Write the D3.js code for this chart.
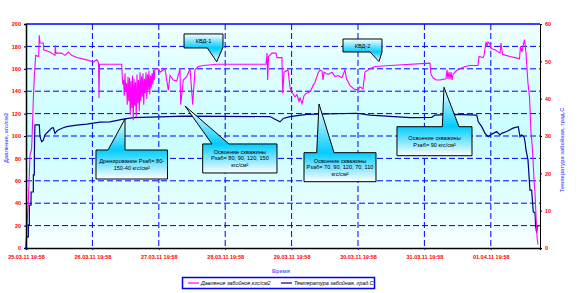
<!DOCTYPE html>
<html>
<head>
<meta charset="utf-8">
<script src="https://cdn.jsdelivr.net/npm/d3@7"></script>
<style>
  body { margin: 0; background: #ffffff; }
  svg { display: block; font-family: "Liberation Sans", Arial, sans-serif; }
</style>
</head>
<body>
<div id="chart"></div>
<script>

  // ---------------------------//
  //            DATA            //
  // ---------------------------//

  // time in days from 25.03.11 19:58
  var dayLabels = ["25.03.11 19:58", "26.03.11 19:58", "27.03.11 19:58", "28.03.11 19:58",
                   "29.03.11 19:58", "30.03.11 19:58", "31.03.11 19:58", "01.04.11 19:58"];
  var dayTicks = [0, 1, 2, 3, 4, 5, 6, 7];
  var pressureTicks = [0, 20, 40, 60, 80, 100, 120, 140, 160, 180, 200];
  var tempTicks = [0, 10, 20, 30, 40, 50, 60];

  // [day, кгс/см2]
  var pressure = [
    [0.000,0],[0.015,20],[0.030,36],[0.045,58],[0.060,83],[0.083,88],[0.090,96],[0.110,132],
    [0.125,153],[0.146,172],[0.191,171],[0.200,190],[0.211,183],[0.261,183],[0.267,177],
    [0.361,175],[0.437,172],[0.441,181],[0.449,174],[0.538,174],[0.587,172],[0.637,175],
    [0.688,172],[0.764,170],[0.914,168],[1.014,166],[1.065,168],[1.092,166],[1.099,134],
    [1.107,164],[1.441,164],
    [1.446,158],[1.457,146],[1.468,150],[1.480,136],[1.491,156],[1.502,140],[1.514,147],
    [1.525,128],[1.536,153],[1.547,131],[1.559,152],[1.570,119],[1.581,149],[1.593,125],
    [1.604,154],[1.615,114],[1.627,151],[1.638,127],[1.649,148],[1.660,117],[1.672,155],
    [1.683,129],[1.694,150],[1.706,122],[1.717,157],[1.728,131],[1.740,153],[1.751,135],
    [1.762,156],[1.773,128],[1.785,151],[1.796,138],[1.807,157],[1.819,133],[1.830,155],
    [1.841,141],[1.852,158],[1.864,137],[1.875,154],[1.886,143],[1.898,156],[1.909,146],
    [1.920,159],[1.931,150],[1.943,160],
    [1.992,160],[2.018,157],[2.093,160],[2.143,141],[2.169,154],[2.218,150],[2.270,149],
    [2.319,160],[2.330,128],[2.369,150],[2.420,153],[2.470,160],[2.511,128],[2.545,159],
    [2.595,162],[2.670,163],[2.872,164],[3.614,164],[3.630,174],[3.640,150],[3.652,171],
    [3.705,174],[3.765,174],[3.780,170],[3.855,170],[3.866,138],[3.886,157],[3.946,159],
    [3.976,143],[4.006,139],[4.051,135],[4.081,137],[4.111,131],[4.127,134],[4.157,129],
    [4.187,136],[4.217,138],[4.262,139],[4.292,141],[4.322,145],[4.352,148],[4.398,156],
    [4.428,159],[4.458,158],[4.473,150],[4.488,157],[4.548,155],[4.608,157],[4.654,153],
    [4.699,154],[4.759,152],[4.804,159],[4.827,151],[4.880,145],[4.940,142],[5.000,141],
    [5.030,144],[5.075,142],[5.105,157],[5.181,160],[5.256,162],[5.482,163],[6.084,165],
    [6.099,155],[6.130,152],[6.175,150],[6.235,150],[6.325,151],[6.340,159],[6.355,151],
    [6.370,157],[6.386,151],[6.401,157],[6.416,150],[6.431,155],[6.476,158],[6.536,160],
    [6.611,162],[6.687,163],[6.807,163],[6.822,171],[6.883,170],[6.898,172],[6.928,184],
    [6.943,180],[6.958,184],[6.988,182],[7.003,178],[7.063,177],[7.139,174],[7.154,183],
    [7.176,173],[7.229,172],[7.289,171],[7.364,170],[7.432,169],[7.447,180],[7.470,175],
    [7.485,180],[7.508,186],[7.530,174],[7.560,147],[7.583,135],[7.605,103],[7.620,94],
    [7.636,79],[7.651,61],[7.666,49],[7.681,28],[7.696,10],[7.711,3]
  ];

  // [day, град.С]
  var temperature = [
    [0.000,0],[0.009,3.0],[0.035,3.0],[0.036,6.2],[0.050,6.2],[0.051,11.5],[0.075,11.5],
    [0.077,15.0],[0.110,15.0],[0.111,19.6],[0.125,19.6],[0.127,26.3],[0.130,30.3],[0.136,33.0],
    [0.200,33.0],[0.211,29.8],[0.236,28.5],[0.261,28.9],[0.286,30.3],[0.336,31.2],[0.387,32.1],
    [0.411,32.2],[0.437,30.7],[0.462,31.3],[0.486,31.6],[0.562,32.2],[0.613,32.5],[0.688,32.7],
    [0.764,32.9],[0.914,33.2],[1.114,33.7],[1.265,33.8],[1.465,34.5],[1.616,34.9],[2.395,35.3],
    [3.675,35.2],[3.750,34.5],[3.825,33.8],[3.875,34.7],[3.976,35.2],[4.227,35.8],[4.980,36.1],
    [5.181,35.6],[5.783,34.9],[6.110,35.0],[6.160,35.6],[6.461,35.8],[6.788,35.6],[6.812,33.8],
    [6.863,32.5],[6.913,30.7],[6.962,29.8],[7.014,30.5],[7.089,31.2],[7.139,30.3],[7.164,30.7],
    [7.239,31.2],[7.334,32.1],[7.414,32.5],[7.440,29.8],[7.465,30.3],[7.500,29.8],[7.515,28.5],
    [7.530,26.3],[7.560,23.6],[7.590,15.5],[7.615,15.5],[7.640,9.7],[7.666,9.4],[7.676,5.7],
    [7.691,4.1],[7.700,5.9],[7.730,5.9]
  ];

  // callouts placed in chart units (days, кгс/см2)
  var callouts = [
    { lines: ["Дренирование Рзаб= 80-", "150-40 кгс/см²"],
      box: [1.054, 2.131, 87.5, 61.6], tip: [1.491, 115.2], base: [1.235, 1.491] },
    { lines: ["Освоение скважины", "Рзаб= 80, 90, 120, 150", "кгс/см²"],
      box: [2.661, 3.780, 92.9, 67.0], tip: [2.395, 126.8], base: [2.801, 3.057] },
    { lines: ["Освоение скважины", "Рзаб= 70, 90, 120, 70, 110", "кгс/см²"],
      box: [4.187, 5.271, 85.1, 59.2], tip: [4.413, 128.6], base: [4.378, 4.639] },
    { lines: ["Освоение скважины", "Рзаб= 90 кгс/см²"],
      box: [5.587, 6.717, 108.3, 82.4], tip: [6.295, 143.5], base: [6.270, 6.521] },
    { lines: ["КВД-1"],
      box: [2.380, 2.967, 191.1, 178.6], tip: [2.872, 166.3], base: [2.731, 2.962] },
    { lines: ["КВД-2"],
      box: [4.774, 5.361, 186.6, 175.0], tip: [5.316, 166.5], base: [5.181, 5.361] }
  ];

  // ---------------------------//
  //         DIMENSIONS         //
  // ---------------------------//

  var width = 587;
  var height = 293;
  var margin = { top: 24, right: 47, bottom: 45, left: 26 };
  var plotRight = width - margin.right;
  var plotBottom = height - margin.bottom;

  var svg = d3.select("#chart")
    .append("svg")
    .attr("width", width)
    .attr("height", height);

  var defs = svg.append("defs");
  var bg = defs.append("linearGradient")
    .attr("id", "plotBg")
    .attr("x1", 0).attr("y1", 0).attr("x2", 0).attr("y2", 1);
  bg.append("stop").attr("offset", "0%").attr("stop-color", "#f0ffff");
  bg.append("stop").attr("offset", "50%").attr("stop-color", "#c8feff");
  bg.append("stop").attr("offset", "100%").attr("stop-color", "#f8ffff");

  // ---------------------------//
  //       AXIS  AND SCALE      //
  // ---------------------------//

  var x = d3.scaleLinear().domain([0, 7.741]).range([margin.left, plotRight]);
  var yP = d3.scaleLinear().domain([0, 200]).range([plotBottom, margin.top]);
  var yT = d3.scaleLinear().domain([0, 60]).range([plotBottom, margin.top]);

  svg.append("rect")
    .attr("x", margin.left)
    .attr("y", margin.top)
    .attr("width", plotRight - margin.left)
    .attr("height", plotBottom - margin.top)
    .attr("fill", "url(#plotBg)");

  // grid
  svg.append("g")
    .selectAll("line")
    .data(pressureTicks.slice(1, -1))
    .enter().append("line")
    .attr("x1", margin.left).attr("x2", plotRight)
    .attr("y1", d => yP(d)).attr("y2", d => yP(d))
    .attr("stroke", "#0000ff").attr("stroke-width", 1)
    .attr("stroke-dasharray", "6,3");

  svg.append("g")
    .selectAll("line")
    .data(dayTicks.slice(1))
    .enter().append("line")
    .attr("x1", d => x(d)).attr("x2", d => x(d))
    .attr("y1", margin.top).attr("y2", plotBottom)
    .attr("stroke", "#0000ff").attr("stroke-width", 1)
    .attr("stroke-dasharray", "6,3");

  // top border
  svg.append("line")
    .attr("x1", margin.left).attr("x2", plotRight)
    .attr("y1", margin.top).attr("y2", margin.top)
    .attr("stroke", "#0000ff").attr("stroke-width", 1.5);

  // ---------------------------//
  //            LINES           //
  // ---------------------------//

  var pLine = d3.line().x(d => x(d[0])).y(d => yP(d[1]));
  var tLine = d3.line().x(d => x(d[0])).y(d => yT(d[1]));

  svg.append("path")
    .datum(temperature)
    .attr("fill", "none")
    .attr("stroke", "#000080")
    .attr("stroke-width", 1.2)
    .attr("d", tLine);

  svg.append("path")
    .datum(pressure)
    .attr("fill", "none")
    .attr("stroke", "#ff00ff")
    .attr("stroke-width", 1.1)
    .attr("d", pLine);

  // axes
  var leftAxis = svg.append("g")
    .attr("transform", "translate(" + margin.left + ",0)")
    .call(d3.axisLeft(yP).tickValues(pressureTicks).tickSize(2).tickPadding(3));

  var rightAxis = svg.append("g")
    .attr("transform", "translate(" + plotRight + ",0)")
    .call(d3.axisRight(yT).tickValues(tempTicks).tickSize(2).tickPadding(3));

  var bottomAxis = svg.append("g")
    .attr("transform", "translate(0," + plotBottom + ")")
    .call(d3.axisBottom(x).tickValues(dayTicks).tickSize(2).tickPadding(5)
      .tickFormat((d, i) => dayLabels[i]));

  [leftAxis, rightAxis, bottomAxis].forEach(function(g) {
    g.select(".domain").attr("stroke", "#000").attr("stroke-width", 1.5);
    g.selectAll(".tick line").attr("stroke", "#000");
    g.selectAll("text")
      .attr("fill", "#ff0000")
      .style("font-size", "5.5px")
      .style("font-weight", "bold")
      .style("font-family", "'Liberation Sans', Arial, sans-serif");
  });
  rightAxis.select(".domain").attr("stroke-width", 1);
  bottomAxis.selectAll(".tick line").attr("stroke", "#0000ff");

  // ---------------------------//
  //          CALLOUTS          //
  // ---------------------------//

  callouts.forEach(function(c, i) {
    var x0 = x(c.box[0]), x1 = x(c.box[1]);
    var y0 = yP(c.box[2]), y1 = yP(c.box[3]);
    var tx = x(c.tip[0]), ty = yP(c.tip[1]);
    var b0 = x(c.base[0]), b1 = x(c.base[1]);
    var path = d3.path();
    var fromTop = ty < y0;
    if (fromTop) {
      path.moveTo(x0, y0); path.lineTo(b0, y0); path.lineTo(tx, ty); path.lineTo(b1, y0);
      path.lineTo(x1, y0); path.lineTo(x1, y1); path.lineTo(x0, y1); path.closePath();
    } else {
      path.moveTo(x0, y0); path.lineTo(x1, y0); path.lineTo(x1, y1); path.lineTo(b1, y1);
      path.lineTo(tx, ty); path.lineTo(b0, y1); path.lineTo(x0, y1); path.closePath();
    }
    var top = fromTop ? ty : y0;
    var bottom = fromTop ? y1 : ty;
    var edge = fromTop ? y0 : y1;
    var g = defs.append("linearGradient")
      .attr("id", "callGrad" + i)
      .attr("gradientUnits", "userSpaceOnUse")
      .attr("x1", 0).attr("x2", 0).attr("y1", top).attr("y2", bottom);
    g.append("stop").attr("offset", 0).attr("stop-color", "#ffffff");
    g.append("stop").attr("offset", (edge - top) / (bottom - top)).attr("stop-color", "#00ccff");
    g.append("stop").attr("offset", 1).attr("stop-color", "#ffffff");

    svg.append("path")
      .attr("d", path.toString())
      .attr("fill", "url(#callGrad" + i + ")")
      .attr("stroke", "#000")
      .attr("stroke-width", 1);

    var cy = (y0 + y1) / 2;
    var lh = 6.6;
    svg.append("text")
      .attr("x", (x0 + x1) / 2)
      .attr("text-anchor", "middle")
      .style("font-size", "5.6px")
      .attr("fill", "#000")
      .selectAll("tspan")
      .data(c.lines)
      .enter().append("tspan")
      .attr("x", (x0 + x1) / 2)
      .attr("y", (d, j) => cy + (j - (c.lines.length - 1) / 2) * lh + 2)
      .text(d => d);
  });

  // ---------------------------//
  //        TITLES, LEGEND      //
  // ---------------------------//

  var titleColor = "#6464ff";

  svg.append("text")
    .attr("transform", "translate(8,138) rotate(-90)")
    .attr("text-anchor", "middle")
    .style("font-size", "5.6px")
    .style("font-weight", "bold")
    .attr("fill", titleColor)
    .text("Давление, кгс/см2");

  svg.append("text")
    .attr("transform", "translate(564,150) rotate(-90)")
    .attr("text-anchor", "middle")
    .style("font-size", "5.6px")
    .style("font-weight", "bold")
    .attr("fill", titleColor)
    .text("Температура забойная, град.С");

  svg.append("text")
    .attr("x", 281)
    .attr("y", 273)
    .attr("text-anchor", "middle")
    .style("font-size", "5.6px")
    .style("font-weight", "bold")
    .attr("fill", titleColor)
    .text("Время");

  var legend = svg.append("g");
  legend.append("rect")
    .attr("x", 182.5).attr("y", 277.5)
    .attr("width", 192).attr("height", 11)
    .attr("fill", "#ffffff")
    .attr("stroke", "#0000ff")
    .attr("stroke-width", 1.5);

  var legendItems = [
    { label: "Давление забойное,кгс/см2", color: "#ff00ff", x: 188 },
    { label: "Температура забойная, град.С", color: "#000080", x: 281 }
  ];
  legendItems.forEach(function(d) {
    legend.append("line")
      .attr("x1", d.x).attr("x2", d.x + 11)
      .attr("y1", 283).attr("y2", 283)
      .attr("stroke", d.color).attr("stroke-width", 1.2);
    legend.append("text")
      .attr("x", d.x + 13).attr("y", 285)
      .style("font-size", "5.4px")
      .style("font-style", "italic")
      .attr("fill", "#000")
      .text(d.label);
  });

</script>
</body>
</html>
